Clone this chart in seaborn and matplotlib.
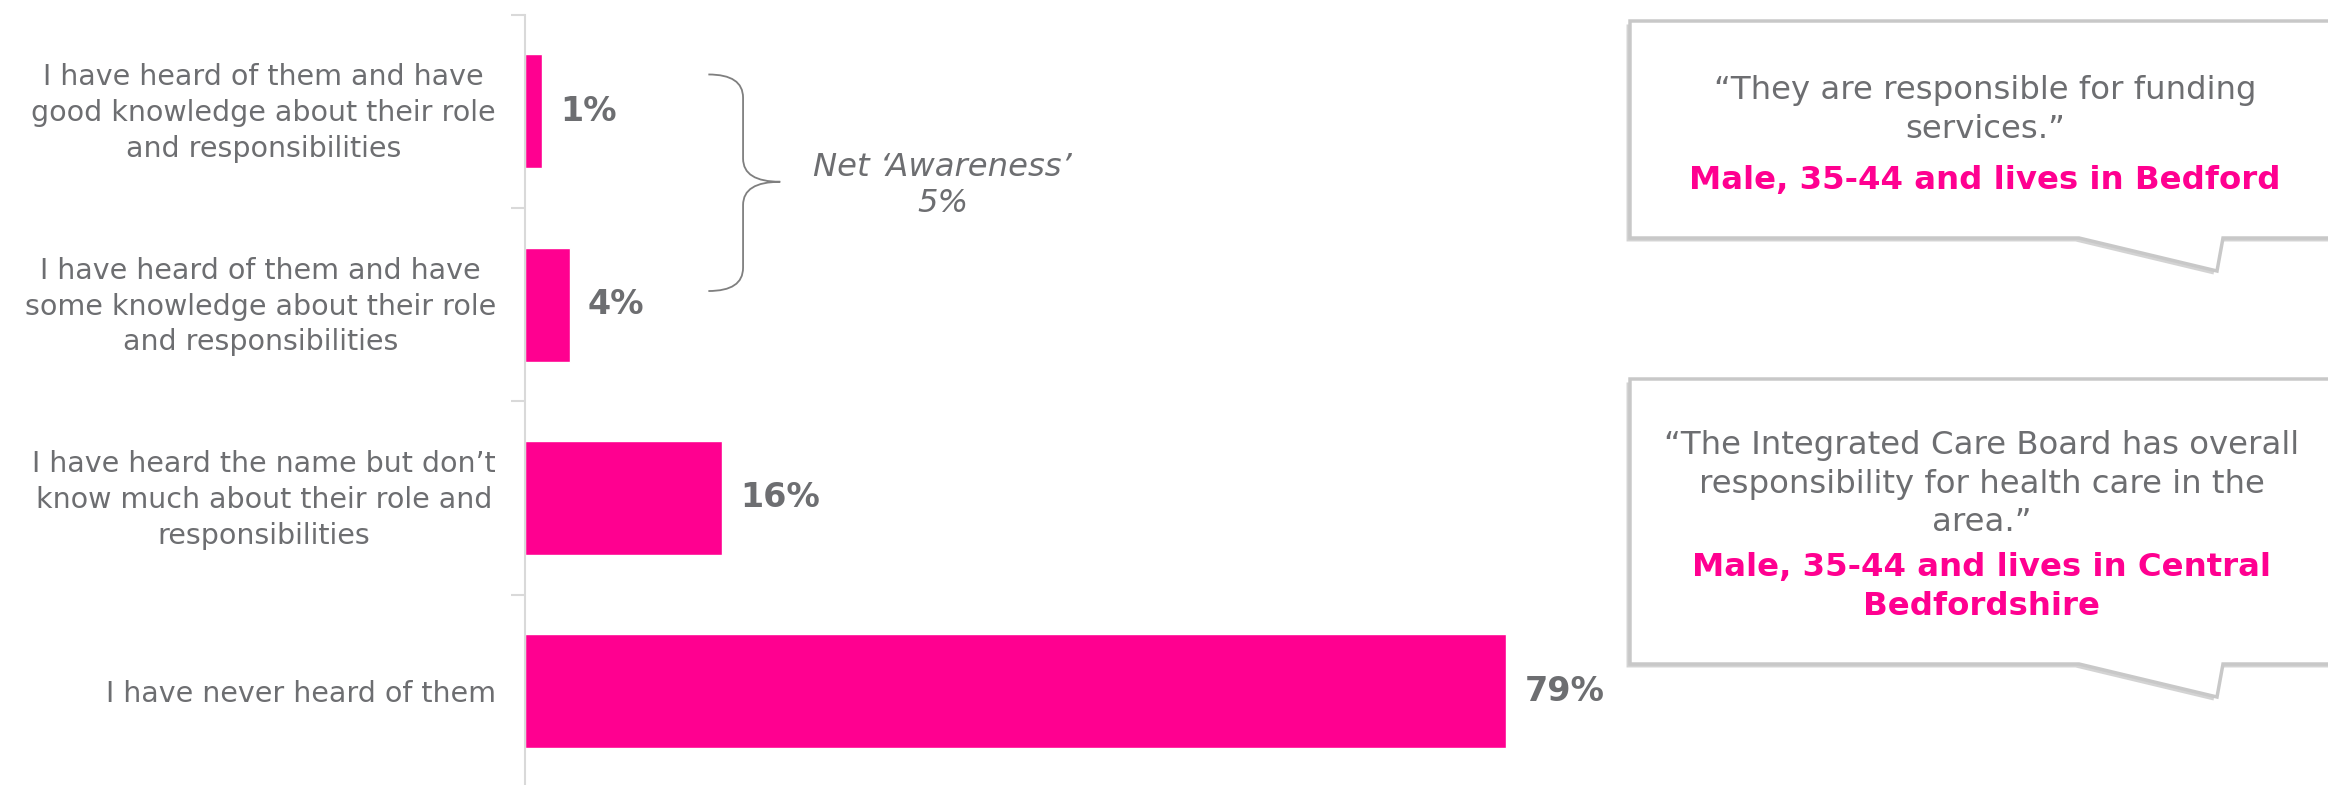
import numpy as np
import pandas as pd
import seaborn as sns
import matplotlib.pyplot as plt
from matplotlib.patches import Polygon, PathPatch
from matplotlib.path import Path
from matplotlib.transforms import ScaledTranslation
import matplotlib.patheffects as pe

# ---- data ----
categories = [
    "I have heard of them and have\ngood knowledge about their role\nand responsibilities",
    "I have heard of them and have\nsome knowledge about their role\nand responsibilities",
    "I have heard the name but don\u2019t\nknow much about their role and\nresponsibilities",
    "I have never heard of them",
]
values = [1.4, 3.6, 15.9, 79.2]          # bar lengths as drawn
value_labels = ["1%", "4%", "16%", "79%"]
net_label = "Net \u2018Awareness\u2019\n5%"
quotes = [
    "\u201cThey are responsible for funding\nservices.\u201d",
    "\u201cThe Integrated Care Board has overall\nresponsibility for health care in the\narea.\u201d",
]
speakers = [
    "Male, 35-44 and lives in Bedford",
    "Male, 35-44 and lives in Central\nBedfordshire",
]

pink = "#FF0090"
grey = "#6D6E71"
light = "#D9D9D9"

sns.set_style("white")
plt.rcParams["font.family"] = ["DejaVu Sans"]

df = pd.DataFrame({"cat": categories, "val": values})

W, H = 2328, 785
fig = plt.figure(figsize=(W / 100, H / 100), dpi=100)
ax = fig.add_axes([525 / W, -0.0038, 1239 / W, 0.9853])

sns.barplot(data=df, x="val", y="cat", orient="h", color=pink, width=0.59,
            saturation=1, ax=ax)
ax.set_xlim(0, 100)
ax.set_ylim(3.5, -0.5)
ax.set_xlabel("")
ax.set_ylabel("")
ax.set_xticks([])

for s in ["top", "right", "bottom"]:
    ax.spines[s].set_visible(False)
ax.spines["left"].set_color(light)
ax.spines["left"].set_linewidth(1.5)

ax.set_yticks([-0.5, 0.5, 1.5, 2.5], minor=True)
ax.tick_params(axis="y", which="minor", length=10, width=1.5, color=light, left=True)
ax.tick_params(axis="y", which="major", length=0, pad=21, labelsize=20.5, labelcolor=grey)
nudge = ScaledTranslation(0, 0.05, fig.dpi_scale_trans)
for lbl in ax.get_yticklabels():
    lbl.set_multialignment("center")
    lbl.set_linespacing(1.36)
    if "\n" in lbl.get_text():
        lbl.set_transform(lbl.get_transform() + nudge)

ax.bar_label(ax.containers[0], labels=value_labels, padding=13,
             fontsize=24, fontweight="bold", color=grey)

# curly brace grouping the first two bars
x0, x1, x2 = 14.8, 17.6, 20.6
yt, ym, yb, r = -0.19, 0.365, 0.93, 0.12
verts = [(x0, yt), (x1, yt), (x1, yt + r), (x1, ym - r), (x1, ym), (x2, ym),
         (x1, ym), (x1, ym + r), (x1, yb - r), (x1, yb), (x0, yb)]
codes = [Path.MOVETO, Path.CURVE3, Path.CURVE3, Path.LINETO, Path.CURVE3, Path.CURVE3,
         Path.CURVE3, Path.CURVE3, Path.LINETO, Path.CURVE3, Path.CURVE3]
ax.add_patch(PathPatch(Path(verts, codes), fill=False, edgecolor="#7F7F7F", lw=1.3))
ax.text(33.7, 0.385, net_label, ha="center", va="center", fontsize=23.2,
        style="italic", color=grey, linespacing=1.19)

# speech-bubble callouts
def bubble(top, bottom):
    pts = [(1630, top), (2345, top), (2345, bottom), (2223, bottom),
           (2217, bottom + 33), (2079, bottom), (1630, bottom)]
    pts = [(x / W, 1 - y / H) for x, y in pts]
    p = Polygon(pts, closed=True, transform=fig.transFigure, facecolor="white",
                edgecolor="#C8C8C8", lw=2.5, zorder=5)
    p.set_path_effects([pe.SimplePatchShadow(offset=(-2.5, -2.5), shadow_rgbFace="#A8A8A8", alpha=0.5),
                        pe.Normal()])
    fig.patches.append(p)

bubble(21, 238)
bubble(379, 664)

fs = 23.3
fig.text(1985 / W, 1 - 110 / H, quotes[0], ha="center", va="center", fontsize=fs,
         color=grey, linespacing=1.3, zorder=6)
fig.text(1985 / W, 1 - 180 / H, speakers[0], ha="center", va="center", fontsize=fs,
         fontweight="bold", color=pink, zorder=6)
fig.text(1982 / W, 1 - 484 / H, quotes[1], ha="center", va="center", fontsize=fs,
         color=grey, linespacing=1.3, zorder=6)
fig.text(1982 / W, 1 - 587 / H, speakers[1], ha="center", va="center", fontsize=fs,
         fontweight="bold", color=pink, linespacing=1.3, zorder=6)

fig.savefig("out.png", dpi=100)
